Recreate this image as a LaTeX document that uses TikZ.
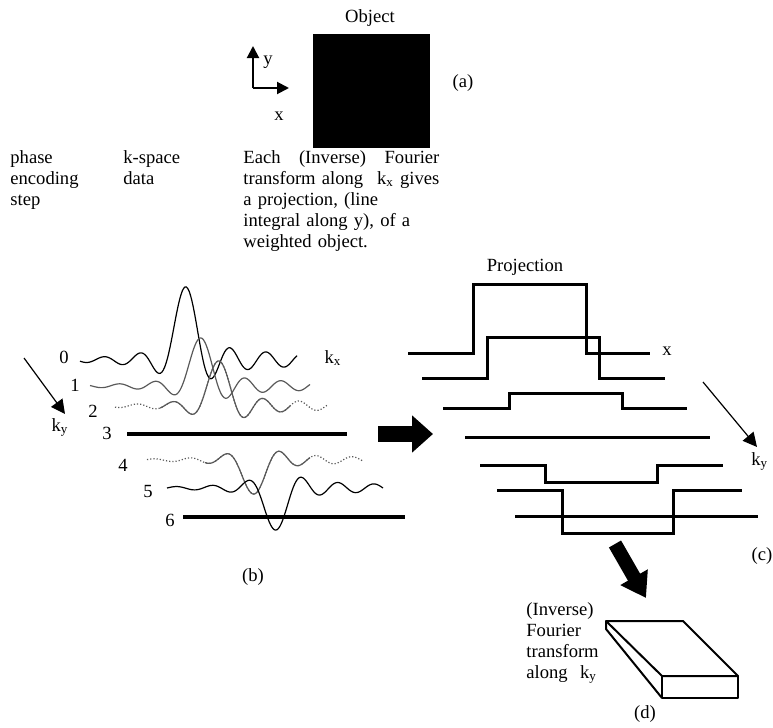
\documentclass[tikz,border=0pt]{standalone}
\usepackage{fontspec}
\setmainfont{Liberation Serif}
\usepackage{tikz}
\usetikzlibrary{arrows.meta}

\begin{document}
\begin{tikzpicture}[x=0.5pt,y=-0.5pt,
  every node/.style={font=\fontsize{9.3pt}{10.5pt}\selectfont, inner sep=0pt},
  declare function={kdat(\u)=sin(\u r)/\u*(1+0.04*abs(\u));},
  wave/.style={line width=0.6pt},
  grey wave/.style={line width=0.6pt, black!65},
  flat/.style={line width=2pt},
  proj/.style={line width=1.5pt},
  thin arrow/.style={line width=0.6pt,-{Triangle[length=7pt,width=7pt]}},
  axis arrow/.style={line width=1pt,-{Triangle[length=6pt,width=6pt]}}]
\useasboundingbox (0,0) rectangle (773,728);

\node (object) at (370,18) {Object};
\fill (313,34) rectangle (430,148);
\coordinate (orig) at (253,88);
\coordinate (ytip) at (253,46);
\coordinate (xtip) at (289,88);
\draw[axis arrow] (orig) -- (ytip);
\draw[axis arrow] (orig) -- (xtip);
\node (ylab) at (268,62) {y};
\node (xlab) at (279,116) {x};
\node (la) at (463,83) {(a)};

\node (each) at (243,163) [anchor=base west, align=left, text width=98pt]
  {\makebox[98pt]{Each\hfill(Inverse)\hfill Fourier}\\
   \makebox[98pt]{transform along\hfill k\textsubscript{x} gives}\\
   a projection, (line\\ integral along y), of a\\ weighted object.};

\node (phase) at (10,163) [anchor=base west, align=left, text width=60pt] {phase\\encoding\\step};
\node (kspace) at (123,163) [anchor=base west, align=left, text width=50pt] {k-space\\data};

\node (r0) at (64,357) {0};
\node (r1) at (75,385) {1};
\node (r2) at (93,411) {2};
\node (r3) at (107,433) {3};
\node (r4) at (123,465) {4};
\node (r5) at (148,492) {5};
\node (r6) at (170,520) {6};

\draw[wave] plot[domain=80:297, samples=160] (\x, {360-73*kdat((\x-185)*pi/18+0.001)});
\draw[grey wave] plot[domain=90:310, samples=160] (\x, {386-48*kdat((\x-200)*pi/18+0.001)});
\draw[grey wave, densely dotted] plot[domain=115:327, samples=160] (\x, {406-45*kdat((\x-218)*pi/18+0.001)});
\draw[grey wave] plot[domain=160:290, samples=100] (\x, {406-45*kdat((\x-218)*pi/18+0.001)});
\draw[flat] (127,434) -- (347,434);
\draw[grey wave, densely dotted] plot[domain=147:363, samples=160] (\x, {460+34*kdat((\x-253)*pi/18+0.001)});
\draw[grey wave] plot[domain=205:310, samples=100] (\x, {460+34*kdat((\x-253)*pi/18+0.001)});
\draw[wave] plot[domain=167:383, samples=160] (\x, {488+42*kdat((\x-275)*pi/18+0.001)});
\draw[flat] (183,517) -- (405,517);

\node (kx) at (333,358) {k\textsubscript{x}};
\coordinate (kyA) at (24,358);
\coordinate (kyB) at (65,414);
\draw[thin arrow] (kyA) -- (kyB);
\node (ky) at (60,427) {k\textsubscript{y}};
\node (lb) at (253,577) {(b)};

\coordinate (bigA) at (378,434);
\coordinate (bigB) at (433,434);
\draw[line width=8pt,-{Triangle[length=10.5pt,width=18pt]}] (bigA) -- (bigB);

\node (projection) at (525,267) {Projection};
\draw[proj] (408,353) -- (473,353) -- (473,284) -- (586,284) -- (586,353) -- (650,353);
\draw[proj] (422,378) -- (487,378) -- (487,337) -- (599,337) -- (599,378) -- (665,378);
\draw[proj] (443,408) -- (509,408) -- (509,393) -- (622,393) -- (622,408) -- (687,408);
\draw[proj] (465,437) -- (710,437);
\draw[proj] (480,465) -- (545,465) -- (545,482) -- (657,482) -- (657,465) -- (723,465);
\draw[proj] (497,490) -- (562,490) -- (562,533) -- (673,533) -- (673,490) -- (742,490);
\draw[proj] (515,516) -- (758,516);
\node (xproj) at (667,351) {x};
\coordinate (kyC) at (703,382);
\coordinate (kyD) at (757,447);
\draw[thin arrow] (kyC) -- (kyD);
\node (ky2) at (751,461) [anchor=west] {k\textsubscript{y}};
\node (lc) at (762,556) {(c)};

\coordinate (downA) at (615,544);
\coordinate (downB) at (646,598);
\draw[line width=7pt,-{Triangle[length=12pt,width=15pt]}] (downA) -- (downB);

\node (inverse) at (526,615) [anchor=base west, align=left, text width=50pt]
  {(Inverse)\\Fourier\\transform\\along\ \ k\textsubscript{y}};
\draw[line width=1pt, line join=round] (606,621) -- (683,621) -- (738,676) -- (662,676) -- cycle;
\draw[line width=1pt, line join=round] (662,676) rectangle (738,698);
\draw[line width=1pt, line join=round] (606,621) -- (606,629) -- (662,698);
\node (ld) at (645,714) {(d)};
\end{tikzpicture}
\end{document}
